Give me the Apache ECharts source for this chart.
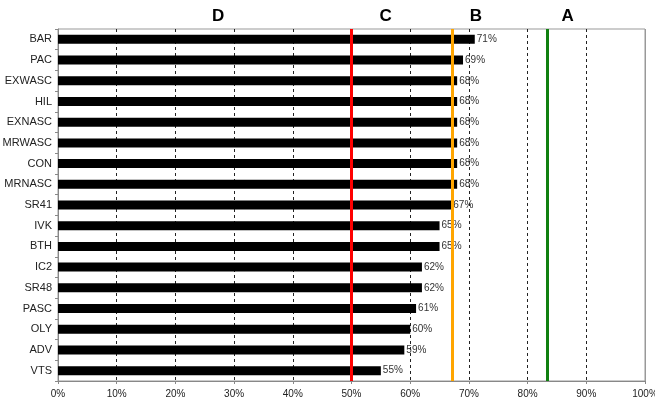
<!DOCTYPE html>
<html><head><meta charset="utf-8">
<script src="https://cdn.jsdelivr.net/npm/echarts@6/dist/echarts.min.js"></script>
<style>html,body{margin:0;padding:0;background:#fff}#c{width:655px;height:401px}</style>
</head><body><div id="c"></div>
<script>
const categories = ['BAR','PAC','EXWASC','HIL','EXNASC','MRWASC','CON','MRNASC','SR41','IVK','BTH','IC2','SR48','PASC','OLY','ADV','VTS'];
const values = [71,69,68,68,68,68,68,68,67,65,65,62,62,61,60,59,55];
const thresholds = [50, 67.2, 83.4];
const thresholdColors = ['#ff0000','#ffa500','#108010'];
const zoneLabels = ['D','C','B','A'];
const zonePositions = [27.3, 55.8, 71.2, 86.8];
const xTicks = [0,10,20,30,40,50,60,70,80,90,100];

const chart = echarts.init(document.getElementById('c'));
const font = 'Liberation Sans, Arial, sans-serif';
const lines = thresholds.map((t,i)=>({xAxis:t,lineStyle:{color:thresholdColors[i],width:3,type:'solid'}}));
lines.unshift({xAxis:xTicks[xTicks.length-1],lineStyle:{color:'#999',width:1,type:'solid'}});
chart.setOption({
  animation:false,
  grid:{left:58,right:10,top:29,bottom:20,outerBoundsMode:'none',containLabel:false,show:true,borderColor:'#999',borderWidth:1},
  xAxis:{type:'value',min:0,max:100,interval:10,
    axisLine:{show:true,lineStyle:{color:'#888'}},
    axisTick:{show:true,length:3,lineStyle:{color:'#888'}},
    axisLabel:{formatter:v=>v+'%',fontSize:10,color:'#222',fontFamily:font,margin:8},
    splitLine:{show:true,lineStyle:{color:'#222',type:[3,3],width:1}}},
  yAxis:{type:'category',data:categories,inverse:true,
    axisLine:{show:true,lineStyle:{color:'#888'}},
    axisTick:{show:true,length:3,lineStyle:{color:'#888'}},
    axisLabel:{fontSize:11,color:'#222',fontFamily:font,margin:6}},
  series:[{type:'bar',data:values,barWidth:9,itemStyle:{color:'#000'},
    label:{show:true,position:'right',distance:2,formatter:p=>p.value+'%',fontSize:10,color:'#333',fontFamily:font},
    markLine:{silent:true,symbol:'none',label:{show:false},data:lines}
  }]
});
const gy = 16;
chart.setOption({graphic:zoneLabels.map((l,i)=>({type:'text',
  x:chart.convertToPixel({xAxisIndex:0},zonePositions[i]),y:gy,
  style:{text:l,font:'bold 17px '+font,fill:'#000',textAlign:'center',textVerticalAlign:'middle'}}))});
</script></body></html>
